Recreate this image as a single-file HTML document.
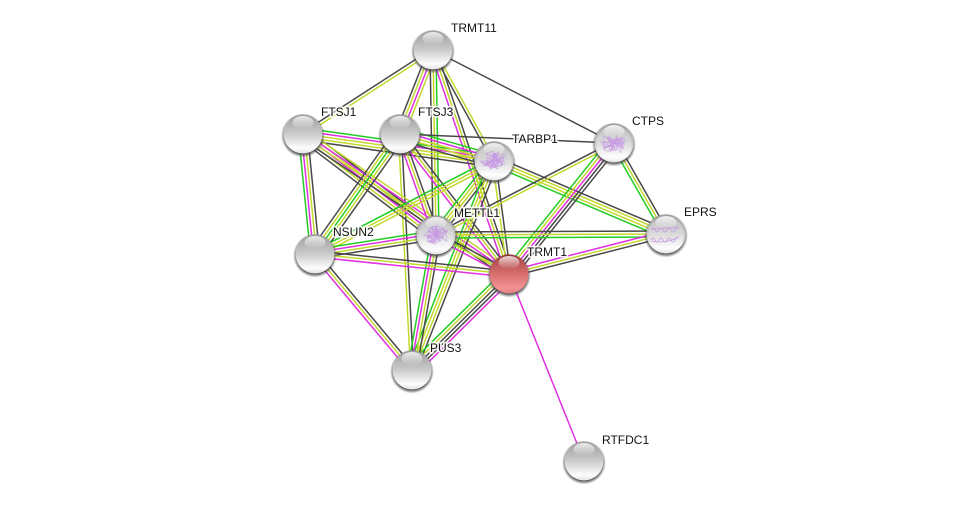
<!DOCTYPE html>
<html><head><meta charset="utf-8">
<style>
html,body{margin:0;padding:0;background:#fff;width:976px;height:507px;overflow:hidden}
svg{display:block}
text{font-family:"Liberation Sans",sans-serif;font-size:12px;fill:#111}
.h{stroke:#fff;stroke-width:3.5px;stroke-opacity:.85;paint-order:stroke;stroke-linejoin:round}
.s{fill:none;stroke:#c79ae4;stroke-width:.8}
</style></head><body>
<svg xmlns="http://www.w3.org/2000/svg" width="976" height="507" viewBox="0 0 976 507">
<defs>
<linearGradient id="g" x1="0" y1="0" x2="0" y2="1"><stop offset="0" stop-color="#9c9c9c"/><stop offset=".5" stop-color="#cbcbcb"/><stop offset=".86" stop-color="#fdfdfd"/><stop offset="1" stop-color="#e2e2e2"/></linearGradient>
<linearGradient id="r" x1="0" y1="0" x2="0" y2="1"><stop offset="0" stop-color="#8e2e2e"/><stop offset=".12" stop-color="#b04c4c"/><stop offset=".5" stop-color="#d86e6e"/><stop offset=".86" stop-color="#f29292"/><stop offset="1" stop-color="#e08080"/></linearGradient>
<linearGradient id="gl" x1="0" y1="0" x2="0" y2="1"><stop offset="0" stop-color="#fff" stop-opacity=".8"/><stop offset="1" stop-color="#fff" stop-opacity="0"/></linearGradient>
<radialGradient id="sh" cx=".5" cy=".5" r=".5"><stop offset=".84" stop-color="#333" stop-opacity=".8"/><stop offset="1" stop-color="#555" stop-opacity="0"/></radialGradient>
</defs>
<g id="edges"></g>
<g id="nodes"></g>
<g id="scribbles"></g>
<g>
<path class="s" stroke-width="1.2" d="M651 230q2-4 4 0t4 0 4 0 4 0 4 0 4 0 4-1M651 240q2-4 4 0t4 0 4 0 4 0 4 0 4 0 4-3"/>
<path class="s" d="M652 229l26-2M651 241q12 3 26-3"/>
</g>
<g>
<text class="h" x="451" y="32">TRMT11</text>
<text class="h" x="321" y="116">FTSJ1</text>
<text class="h" x="418" y="116">FTSJ3</text>
<text class="h" x="512" y="143">TARBP1</text>
<text class="h" x="632" y="125">CTPS</text>
<text class="h" x="684" y="216">EPRS</text>
<text class="h" x="454" y="217">METTL1</text>
<text class="h" x="333" y="236">NSUN2</text>
<text class="h" x="527" y="256">TRMT1</text>
<text class="h" x="430" y="352">PUS3</text>
<text class="h" x="602" y="444">RTFDC1</text>
</g>
</svg>
<script>
var N={a:[433,50],b:[303,134],c:[400,134],d:[494,161],e:[614,143],f:[666,234],g:[436,235],h:[315,254],t:[509,274],p:[412,370],q:[584,461]};
var C={G:'#22cc22',M:'#e030e0',Y:'#c4d82c',D:'#484848'};
var E=[
['a','b','DY'],['a','c','DYMY'],['a','g','DYG'],['a','t','MYD'],['a','d','DY'],['a','e','D'],
['c','p','YD'],['b','d','DYYMG'],['b','h','GMYD'],['b','g','DYMYD'],['b','t','DYMY'],
['c','h','DYGYD'],['c','d','DYYMG'],['c','e','D'],['c','g','MYD'],['c','t','MYD'],
['d','h','GYY'],['d','g','GYYD'],['d','t','YD'],['d','p','GYYD'],['d','f','GYYD'],
['e','g','DY'],['e','t','GYMDD'],['e','f','GYD'],
['f','g','DYG'],['f','t','MYD'],['g','h','GMYD'],['g','t','MYD'],['g','p','GMYD'],
['h','t','MYD'],['h','p','MYD'],['t','p','GYDDM'],['t','q','M']];
var s='',w=3;
E.forEach(function(e){
 var A=N[e[0]],B=N[e[1]],L=e[2],dx=B[0]-A[0],dy=B[1]-A[1],l=Math.hypot(dx,dy),nx=-dy/l,ny=dx/l;
 if(nx<0||(nx===0&&ny<0)){nx=-nx;ny=-ny}
 for(var i=0;i<L.length;i++){
  var o=(i-(L.length-1)/2)*w;
  s+='<line x1="'+(A[0]+nx*o).toFixed(1)+'" y1="'+(A[1]+ny*o).toFixed(1)+'" x2="'+(B[0]+nx*o).toFixed(1)+'" y2="'+(B[1]+ny*o).toFixed(1)+'" stroke="'+C[L[i]]+'" stroke-width="1.5"/>';
 }
});
document.getElementById('edges').innerHTML=s;
var n='';
for(var k in N){var x=N[k][0],y=N[k][1],red=k==='t',st=/[defg]/.test(k);
 n+='<circle cx="'+x+'" cy="'+(y+1.5)+'" r="22" fill="url(#sh)"/>';
 n+='<circle cx="'+x+'" cy="'+y+'" r="19.5" fill="url(#'+(red?'r':'g')+')"/>';
 if(st)n+='<circle cx="'+x+'" cy="'+y+'" r="17.5" fill="#fff" fill-opacity=".3"/>';
 n+='<ellipse cx="'+x+'" cy="'+(y-11.5)+'" rx="10.5" ry="6.5" fill="url(#gl)"/>';
}
document.getElementById('nodes').innerHTML=n;
var seed=7;function R(){seed=(seed*16807)%2147483647;return seed/2147483647}
var sc='';['d','e','g'].forEach(function(k){var x=N[k][0],y=N[k][1],d='',px=0,py=0;
 for(var i=0;i<70;i++){var a=R()*6.283,r=4+R()*5,nx=px+Math.cos(a)*r,ny=py+Math.sin(a)*r;
  if(nx*nx/196+ny*ny/121>1){nx=-px*.75;ny=-py*.75}
  d+=(i?'L':'M')+(x+nx).toFixed(1)+' '+(y+ny).toFixed(1);px=nx;py=ny}
 sc+='<path class="s" style="stroke-width:.55" d="'+d+'"/>';
});
document.getElementById('scribbles').innerHTML=sc;
</script>
</body></html>
